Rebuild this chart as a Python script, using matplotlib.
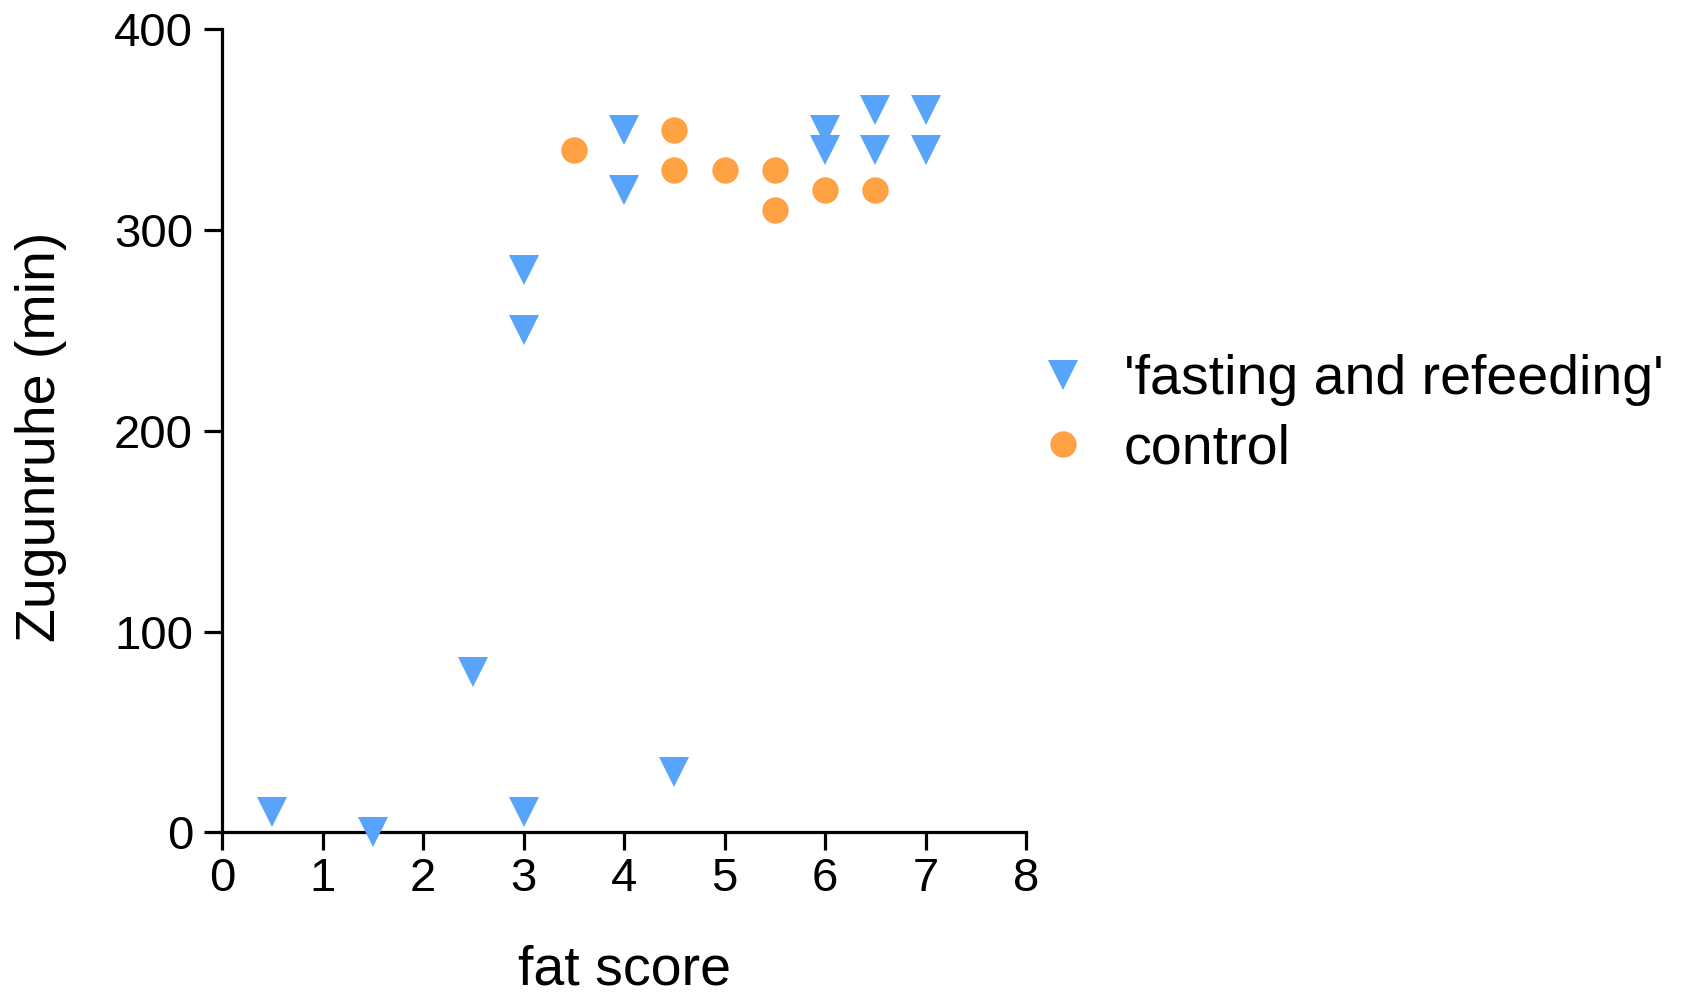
import matplotlib
matplotlib.use("Agg")
import matplotlib.pyplot as plt

plt.rcParams['font.family'] = ['Liberation Sans', 'DejaVu Sans']

# fasting and refeeding group
fr_x = [0.5, 1.5, 2.5, 3, 3, 3, 4, 4, 4.5, 6, 6, 6.5, 6.5, 7, 7]
fr_y = [10, 0, 80, 10, 250, 280, 350, 320, 30, 350, 340, 360, 340, 360, 340]
# control group
ct_x = [3.5, 4.5, 4.5, 5, 5.5, 5.5, 6, 6.5]
ct_y = [340, 350, 330, 330, 330, 310, 320, 320]

labels = ["'fasting and refeeding'", "control"]
xticks = [0, 1, 2, 3, 4, 5, 6, 7, 8]
yticks = [0, 100, 200, 300, 400]

blue = '#58A4FA'
orange = '#FFA243'

fig = plt.figure(figsize=(16.9, 9.92), dpi=100)
ax = fig.add_axes([0.1315, 0.1610, 0.6071 - 0.1315, 0.9705 - 0.1610])

ax.plot(fr_x, fr_y, linestyle='none', marker='v', markersize=21,
        color=blue, markeredgewidth=0, label=labels[0], clip_on=False, zorder=3)
ax.plot(ct_x, ct_y, linestyle='none', marker='o', markersize=19,
        color=orange, markeredgewidth=0, label=labels[1], clip_on=False, zorder=3)

ax.set_xlim(0, 8)
ax.set_ylim(0, 400)
ax.set_xticks(xticks)
ax.set_yticks(yticks)
ax.spines['top'].set_visible(False)
ax.spines['right'].set_visible(False)
for s in ['left', 'bottom']:
    ax.spines[s].set_linewidth(2.3)
ax.tick_params(axis='both', direction='out', length=13, width=2.3,
               labelsize=34)
ax.tick_params(axis='y', pad=8)
ax.tick_params(axis='x', pad=5)

ax.set_xlabel('fat score', fontsize=40, va='baseline')
ax.xaxis.set_label_coords(0.5, -0.1890)
ax.set_ylabel('Zugunruhe (min)', fontsize=40, va='baseline')
ax.yaxis.set_label_coords(-0.2082, 0.4926)

ax.legend(loc='center left', bbox_to_anchor=(0.984, 0.52), frameon=False,
          fontsize=40, handlelength=0.8, handletextpad=0.69,
          labelspacing=0.3, borderpad=0, numpoints=1)

fig.savefig('out.png', dpi=100)
